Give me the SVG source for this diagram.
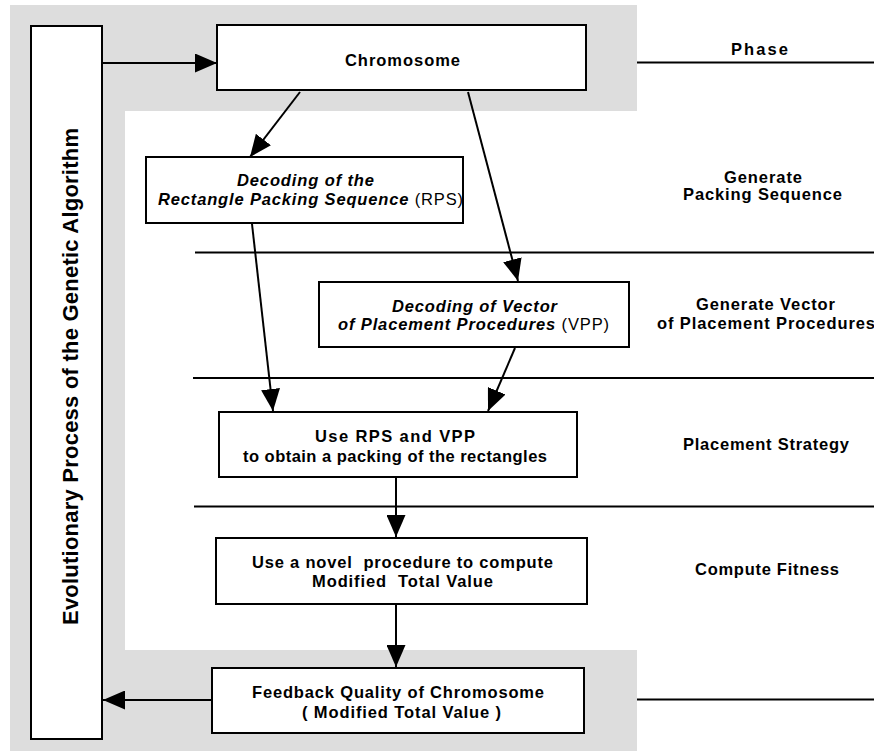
<svg xmlns="http://www.w3.org/2000/svg" width="874" height="753" viewBox="0 0 874 753">
<style>
.box{fill:#fff;stroke:#000;stroke-width:2}
.t{font-family:"Liberation Sans",Arial,sans-serif;font-size:16.5px;font-weight:bold;fill:#000}
.it{font-style:italic}
.rg{font-weight:normal;font-style:normal}
.con{stroke:#000;stroke-width:2;fill:none}
.ph{stroke:#000;stroke-width:2}
</style>
<defs>
<marker id="ah" markerUnits="userSpaceOnUse" markerWidth="22" markerHeight="19" refX="22" refY="9.5" orient="auto">
<path d="M0,0 L22,9.5 L0,19 Z" fill="#000"/>
</marker>
</defs>
<rect x="0" y="0" width="874" height="753" fill="#fff"/>
<g id="background">
<rect x="10" y="5" width="627" height="746" fill="#dddddd"/>
<rect x="125" y="111" width="749" height="539" fill="#fff"/>
</g>
<g id="phase-lines">
<line class="ph" x1="637" y1="62.5" x2="874" y2="62.5"/>
<line class="ph" x1="195" y1="252.5" x2="874" y2="252.5"/>
<line class="ph" x1="193" y1="378" x2="874" y2="378"/>
<line class="ph" x1="194" y1="506.5" x2="874" y2="506.5"/>
<line class="ph" x1="637" y1="699.5" x2="874" y2="699.5"/>
</g>
<g id="phase-labels">
<text class="t" x="731" y="55" textLength="57">Phase</text>
<text class="t" x="724" y="183" textLength="78">Generate</text>
<text class="t" x="683" y="200" textLength="159">Packing Sequence</text>
<text class="t" x="696" y="310" textLength="139">Generate Vector</text>
<text class="t" x="657" y="329" textLength="218">of Placement Procedures</text>
<text class="t" x="683" y="450" textLength="166">Placement Strategy</text>
<text class="t" x="695" y="575" textLength="144">Compute Fitness</text>
</g>
<g id="evolutionary">
<rect class="box" x="31" y="26" width="71" height="713"/>
<text class="t" style="font-size:22px" transform="translate(78,625) rotate(-90)" x="0" y="0" textLength="497">Evolutionary Process of the Genetic Algorithm</text>
</g>
<g id="chromosome">
<rect class="box" x="217" y="25" width="369" height="65"/>
<text class="t" x="345" y="66" textLength="115">Chromosome</text>
</g>
<g id="rps">
<rect class="box" x="146" y="157" width="317" height="66"/>
<text class="t it" x="237" y="186" textLength="137">Decoding of the</text>
<text class="t it" x="158" y="205" textLength="305">Rectangle Packing Sequence <tspan class="rg">(RPS)</tspan></text>
</g>
<g id="vpp">
<rect class="box" x="319" y="282" width="310" height="65"/>
<text class="t it" x="392" y="312" textLength="165">Decoding of Vector</text>
<text class="t it" x="338" y="330" textLength="271">of Placement Procedures <tspan class="rg">(VPP)</tspan></text>
</g>
<g id="use">
<rect class="box" x="219" y="412" width="358" height="65"/>
<text class="t" x="315" y="442" textLength="160">Use RPS and VPP</text>
<text class="t" x="243" y="462" textLength="304">to obtain a packing of the rectangles</text>
</g>
<g id="compute">
<rect class="box" x="216" y="538" width="371" height="66"/>
<text class="t" x="252" y="568" textLength="301" xml:space="preserve">Use a novel  procedure to compute</text>
<text class="t" x="312" y="587" textLength="181" xml:space="preserve">Modified  Total Value</text>
</g>
<g id="feedback">
<rect class="box" x="212" y="668" width="372" height="65"/>
<text class="t" x="252" y="698" textLength="292">Feedback Quality of Chromosome</text>
<text class="t" x="302" y="718" textLength="199">( Modified Total Value )</text>
</g>
<g id="connectors">
<line class="con" x1="103" y1="63" x2="217" y2="63" marker-end="url(#ah)"/>
<line class="con" x1="300" y1="92" x2="250" y2="157" marker-end="url(#ah)"/>
<line class="con" x1="468" y1="92" x2="518" y2="281" marker-end="url(#ah)"/>
<line class="con" x1="252" y1="224" x2="273" y2="411" marker-end="url(#ah)"/>
<line class="con" x1="515" y1="348" x2="488" y2="411" marker-end="url(#ah)"/>
<line class="con" x1="396" y1="478" x2="396" y2="537" marker-end="url(#ah)"/>
<line class="con" x1="396" y1="605" x2="396" y2="667" marker-end="url(#ah)"/>
<line class="con" x1="212" y1="700" x2="103" y2="700" marker-end="url(#ah)"/>
</g>
</svg>
